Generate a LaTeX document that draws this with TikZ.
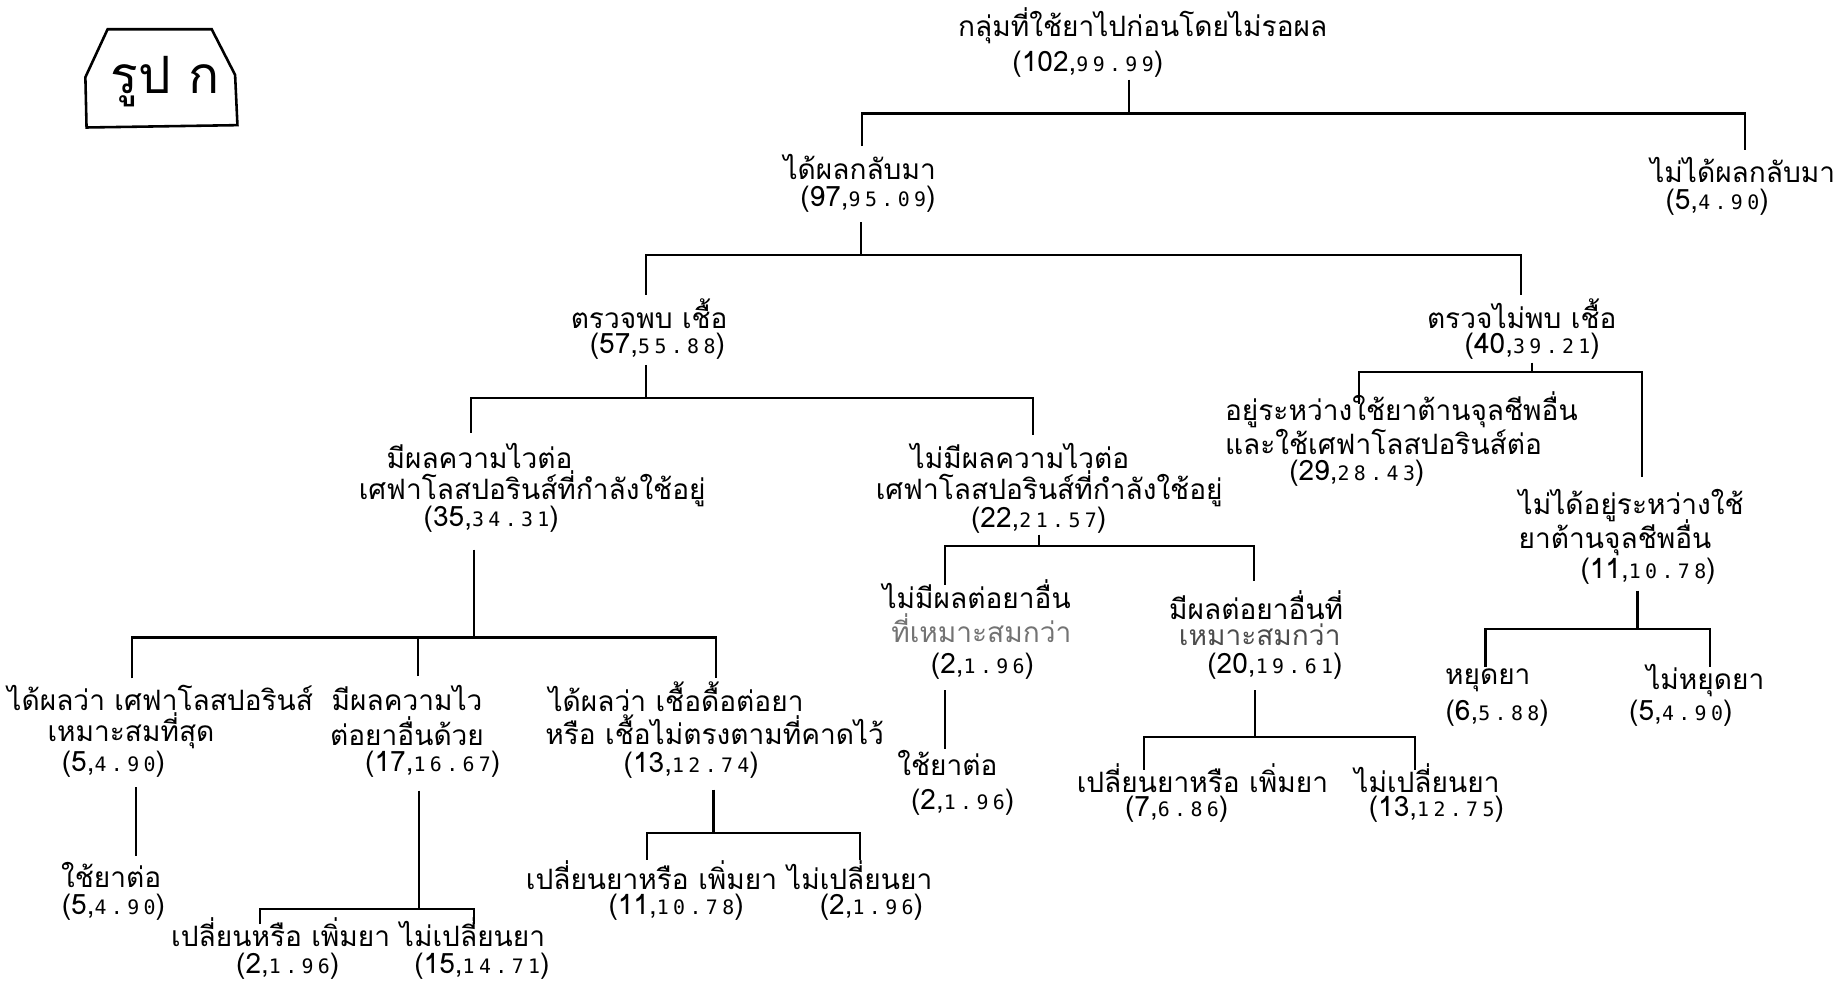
\documentclass[tikz,border=0pt]{standalone}
\usepackage{fontspec}
\newfontfamily\thai[Script=Thai]{Loma}
\newfontfamily\nmono[LetterSpace=22]{DejaVu Sans Mono}
\newcommand\nm[2]{(#1,{\nmono\fontsize{8.5}{9}\selectfont #2})}
\begin{document}
\begin{tikzpicture}[x=0.5pt,y=-0.5pt,
  lbl/.style={inner sep=0pt,font=\thai\fontsize{12}{14}\selectfont},
  ln/.style={line width=0.9pt}]
\useasboundingbox (0,0) rectangle (1568,841);
% badge
\draw[line width=1.1pt] (92,25) -- (181,25) -- (201,64) -- (203,107) -- (74,109) -- (73,66) -- cycle;
\node[inner sep=0pt,font=\thai\fontsize{22}{22}\selectfont] (badge) at (141,70) {รูป ก};
% root
\node[lbl] (r1) at (977,22) {กลุ่มที่ใช้ยาไปก่อนโดยไม่รอผล};
\node[lbl] (r2) at (930,55) {\nm{102}{99.99}};
\node[lbl] (a1) at (735,143) {ได้ผลกลับมา};
\node[lbl] (a2) at (742,170) {\nm{97}{95.09}};
\node[lbl] (b1) at (1490,145) {ไม่ได้ผลกลับมา};
\node[lbl] (b2) at (1468,173) {\nm{5}{4.90}};
\node[lbl] (c1) at (555,268) {ตรวจพบ เชื้อ};
\node[lbl] (c2) at (562,296) {\nm{57}{55.88}};
\node[lbl] (d1) at (1301,268) {ตรวจไม่พบ เชื้อ};
\node[lbl] (d2) at (1310,296) {\nm{40}{39.21}};
% level 3 left
\node[lbl] (e1) at (410,390) {มีผลความไวต่อ};
\node[lbl] (e2) at (455,418) {เศฟาโลสปอรินส์ที่กำลังใช้อยู่};
\node[lbl] (e3) at (420,444) {\nm{35}{34.31}};
\node[lbl] (f1) at (872,390) {ไม่มีผลความไวต่อ};
\node[lbl] (f2) at (897,418) {เศฟาโลสปอรินส์ที่กำลังใช้อยู่};
\node[lbl] (f3) at (888,445) {\nm{22}{21.57}};
% level 3 right
\node[lbl,anchor=west] (g1) at (1047,350) {อยู่ระหว่างใช้ยาต้านจุลชีพอื่น};
\node[lbl,anchor=west] (g2) at (1047,378) {และใช้เศฟาโลสปอรินส์ต่อ};
\node[lbl] (g3) at (1160,405) {\nm{29}{28.43}};
\node[lbl,anchor=west] (h1) at (1298,432) {ไม่ได้อยู่ระหว่างใช้};
\node[lbl,anchor=west] (h2) at (1298,460) {ยาต้านจุลชีพอื่น};
\node[lbl] (h3) at (1409,488) {\nm{11}{10.78}};
\node[lbl] (i1) at (1272,582) {หยุดยา};
\node[lbl] (i2) at (1280,610) {\nm{6}{5.88}};
\node[lbl] (j1) at (1458,582) {ไม่หยุดยา};
\node[lbl] (j2) at (1437,610) {\nm{5}{4.90}};
% under f
\node[lbl] (k1) at (835,508) {ไม่มีผลต่อยาอื่น};
\node[lbl,text=black!55] (k2) at (839,537) {ที่เหมาะสมกว่า};
\node[lbl] (k3) at (840,570) {\nm{2}{1.96}};
\node[lbl] (k4) at (810,652) {ใช้ยาต่อ};
\node[lbl] (k5) at (823,686) {\nm{2}{1.96}};
\node[lbl] (l1) at (1074,517) {มีผลต่อยาอื่นที่};
\node[lbl,text=black!70] (l2) at (1077,543) {เหมาะสมกว่า};
\node[lbl] (l3) at (1090,570) {\nm{20}{19.61}};
\node[lbl] (m1) at (1028,665) {เปลี่ยนยาหรือ เพิ่มยา};
\node[lbl] (m2) at (1006,692) {\nm{7}{6.86}};
\node[lbl] (n1) at (1220,665) {ไม่เปลี่ยนยา};
\node[lbl] (n2) at (1228,692) {\nm{13}{12.75}};
% under e
\node[lbl] (o1) at (137,597) {ได้ผลว่า เศฟาโลสปอรินส์};
\node[lbl] (o2) at (112,625) {เหมาะสมที่สุด};
\node[lbl] (o3) at (97,653) {\nm{5}{4.90}};
\node[lbl] (o4) at (95,748) {ใช้ยาต่อ};
\node[lbl] (o5) at (97,776) {\nm{5}{4.90}};
\node[lbl] (p1) at (348,597) {มีผลความไว};
\node[lbl] (p2) at (348,625) {ต่อยาอื่นด้วย};
\node[lbl] (p3) at (370,653) {\nm{17}{16.67}};
\node[lbl] (q1) at (240,797) {เปลี่ยนหรือ เพิ่มยา};
\node[lbl] (q2) at (246,826) {\nm{2}{1.96}};
\node[lbl] (s1) at (404,797) {ไม่เปลี่ยนยา};
\node[lbl] (s2) at (412,826) {\nm{15}{14.71}};
\node[lbl] (t1) at (578,596) {ได้ผลว่า เชื้อดื้อต่อยา};
\node[lbl] (t2) at (611,624) {หรือ เชื้อไม่ตรงตามที่คาดไว้};
\node[lbl] (t3) at (591,654) {\nm{13}{12.74}};
\node[lbl] (u1) at (557,748) {เปลี่ยนยาหรือ เพิ่มยา};
\node[lbl] (u2) at (578,776) {\nm{11}{10.78}};
\node[lbl] (v1) at (735,748) {ไม่เปลี่ยนยา};
\node[lbl] (v2) at (745,776) {\nm{2}{1.96}};
% connector points
\coordinate (P0) at (965,68);  \coordinate (M0) at (965,97);
\coordinate (L0) at (737,125); \coordinate (R0) at (1492,128);
\coordinate (P1) at (736,190); \coordinate (M1) at (736,218);
\coordinate (L1) at (552,252); \coordinate (R1) at (1300,252);
\coordinate (P2) at (552,312); \coordinate (M2) at (552,340);
\coordinate (L2) at (403,370); \coordinate (R2) at (883,372);
\coordinate (P3) at (1310,310); \coordinate (M3) at (1310,318);
\coordinate (L3) at (1162,345); \coordinate (R3) at (1404,408);
\coordinate (P4) at (405,470); \coordinate (M4) at (405,545);
\coordinate (L4) at (113,580); \coordinate (C4) at (357,578); \coordinate (R4) at (612,580);
\coordinate (P5) at (888,457); \coordinate (M5) at (888,467);
\coordinate (L5) at (808,500); \coordinate (R5) at (1072,497);
\coordinate (P6) at (1400,505); \coordinate (M6) at (1400,538);
\coordinate (L6) at (1270,570); \coordinate (R6) at (1462,570);
\coordinate (P7) at (116,673); \coordinate (Q7) at (116,732);
\coordinate (P8) at (358,676); \coordinate (M8) at (358,777);
\coordinate (L8) at (222,790); \coordinate (R8) at (405,790);
\coordinate (P9) at (610,675); \coordinate (M9) at (610,712);
\coordinate (L9) at (553,735); \coordinate (R9) at (735,735);
\coordinate (P10) at (808,590); \coordinate (Q10) at (808,640);
\coordinate (P11) at (1073,590); \coordinate (M11) at (1073,630);
\coordinate (L11) at (978,658); \coordinate (R11) at (1210,658);
\foreach \i in {0,1,2,3,5,6,8,9,11}{
  \draw[ln] (P\i) -- (M\i);
  \draw[ln] (L\i) |- (M\i) -| (R\i);
}
\draw[ln] (P4) -- (M4);
\draw[ln] (L4) |- (M4) -| (R4);
\draw[ln] (C4) -- (C4 |- M4);
\draw[ln] (P7) -- (Q7);
\draw[ln] (P10) -- (Q10);
\end{tikzpicture}
\end{document}
